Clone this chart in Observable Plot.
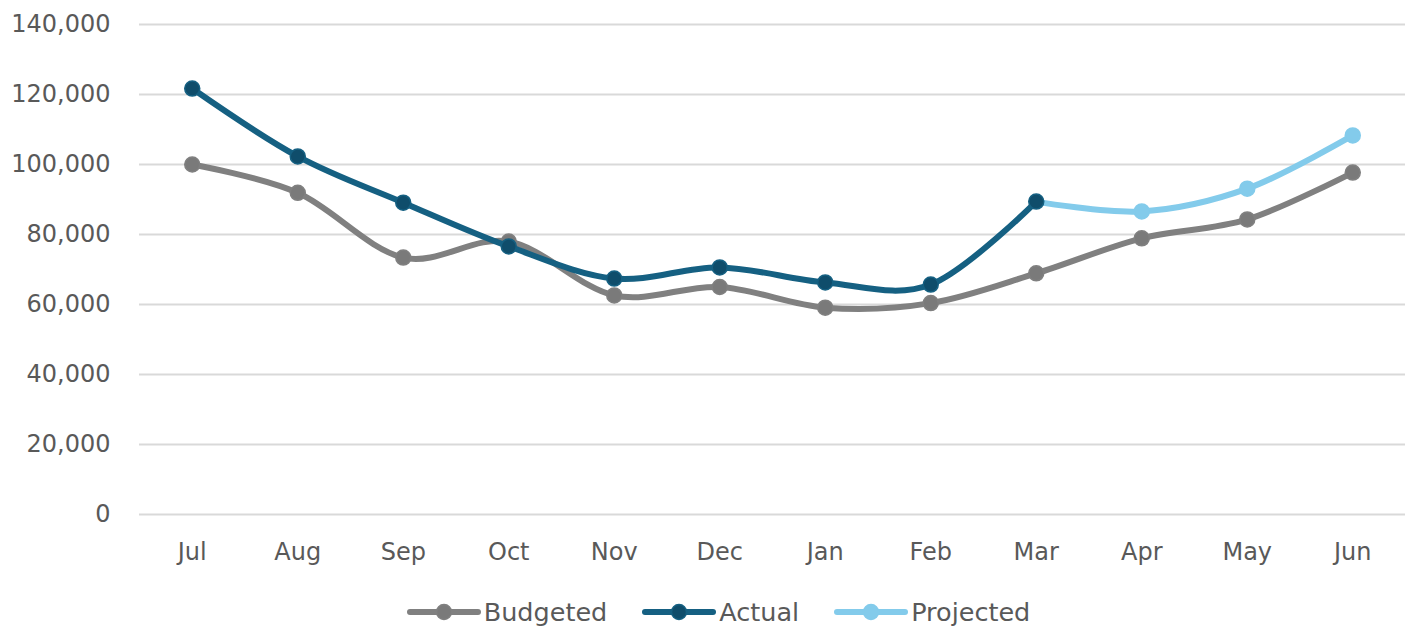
<!DOCTYPE html>
<html>
<head>
<meta charset="utf-8">
<script src="https://cdn.jsdelivr.net/npm/d3@7"></script>
<script src="https://cdn.jsdelivr.net/npm/@observablehq/plot@0.6"></script>
<style>
  html, body { margin: 0; padding: 0; background: #fff; overflow: hidden; }
  #legend { display: flex; justify-content: center; align-items: center; gap: 35px;
    font-family: "DejaVu Sans", sans-serif; font-size: 25.5px; color: #595959;
    height: 36px; margin-left: 24px; margin-top: 2px; }
  .item { display: flex; align-items: center; gap: 3px; }
</style>
</head>
<body>
<div id="chart"></div>
<div id="legend"></div>
<script>
const months = ["Jul","Aug","Sep","Oct","Nov","Dec","Jan","Feb","Mar","Apr","May","Jun"];
const budgeted = [100000, 91900, 73400, 78000, 62600, 65000, 59100, 60400, 68900, 78900, 84300, 97700];
const actual = [121700, 102300, 89100, 76600, 67400, 70600, 66300, 65700, 89400, null, null, null];
const projected = [null, null, null, null, null, null, null, null, 89400, 86600, 93100, 108300];
const yTicks = [0, 20000, 40000, 60000, 80000, 100000, 120000, 140000];

const seriesNames = ["Budgeted", "Actual", "Projected"];
const lineColors = {Budgeted: "#808080", Actual: "#156082", Projected: "#83CBEB"};
const dotFill = {Budgeted: "#7a7a7a", Actual: "#0f4d6b", Projected: "#83CBEB"};

const toRows = (vals) => months.map((m, i) => ({month: m, value: vals[i]})).filter(d => d.value != null);
const bRows = toRows(budgeted);
const aRows = toRows(actual);
const pRows = toRows(projected);

const font = '"DejaVu Sans", sans-serif';

const chart = Plot.plot({
  width: 1413,
  height: 592,
  marginLeft: 139,
  marginRight: 8,
  marginTop: 24,
  marginBottom: 78,
  style: {fontFamily: font, fontSize: "24px", color: "#595959", background: "#fff"},
  x: {type: "point", domain: months, padding: 0.5, round: false, label: null},
  y: {domain: [0, 140000], label: null},
  marks: [
    Plot.gridY(yTicks, {stroke: "#d9d9d9", strokeOpacity: 1, strokeWidth: 2}),
    Plot.axisY(yTicks, {tickSize: 0, tickPadding: 29, tickFormat: d3.format(","), label: null, fill: "#595959"}),
    Plot.axisX({tickSize: 0, tickPadding: 28, label: null, fill: "#595959"}),
    Plot.line(bRows, {x: "month", y: "value", stroke: lineColors.Budgeted, strokeWidth: 6, curve: "cardinal"}),
    Plot.dot(bRows, {x: "month", y: "value", r: 7.5, fill: dotFill.Budgeted, stroke: lineColors.Budgeted, strokeWidth: 1.5}),
    Plot.line(pRows, {x: "month", y: "value", stroke: lineColors.Projected, strokeWidth: 6, curve: "cardinal"}),
    Plot.dot(pRows.slice(1), {x: "month", y: "value", r: 7.5, fill: dotFill.Projected, stroke: lineColors.Projected, strokeWidth: 1.5}),
    Plot.line(aRows, {x: "month", y: "value", stroke: lineColors.Actual, strokeWidth: 6, curve: "cardinal"}),
    Plot.dot(aRows, {x: "month", y: "value", r: 7.5, fill: dotFill.Actual, stroke: lineColors.Actual, strokeWidth: 1.5})
  ]
});
document.getElementById("chart").appendChild(chart);

const legend = document.getElementById("legend");
for (const name of seriesNames) {
  const item = document.createElement("div");
  item.className = "item";
  item.innerHTML = `<svg width="74" height="20"><line x1="3" x2="71" y1="10" y2="10" stroke="${lineColors[name]}" stroke-width="6" stroke-linecap="round"/><circle cx="37" cy="10" r="7.5" fill="${dotFill[name]}" stroke="${lineColors[name]}" stroke-width="1.5"/></svg><span>${name}</span>`;
  legend.appendChild(item);
}
</script>
</body>
</html>
